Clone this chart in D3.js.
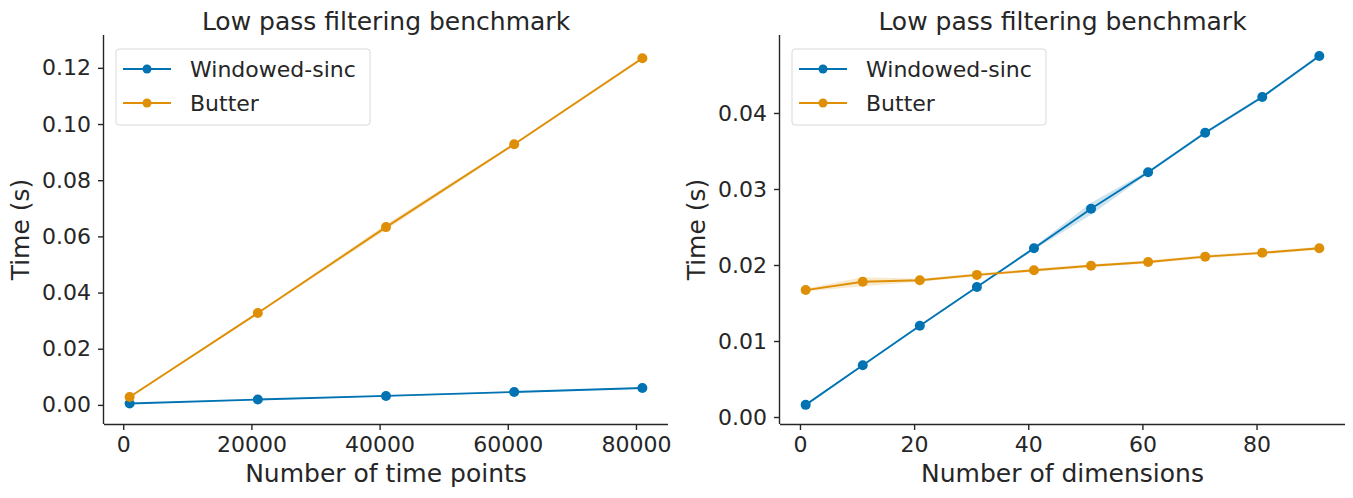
<!DOCTYPE html>
<html><head><meta charset="utf-8">
<script src="https://cdn.jsdelivr.net/npm/d3@7"></script>
<style>body{margin:0;background:#fff}svg{display:block}text{font-family:"DejaVu Sans",sans-serif;fill:#262626}</style>
</head><body><svg id="c" width="1353" height="498"></svg>
<script>
const seriesNames = ["Windowed-sinc", "Butter"];
const colors = ["#0173b2", "#de8f05"];

// Left panel: Number of time points
const leftX = [1000, 21000, 41000, 61000, 81000];
const leftWindowed = [0.0005, 0.0019, 0.0032, 0.0046, 0.0060];
const leftWindowedLo = [0.0003, 0.0017, 0.0030, 0.0044, 0.0058];
const leftWindowedHi = [0.0007, 0.0021, 0.0034, 0.0048, 0.0062];
const leftButter = [0.0028, 0.0327, 0.0633, 0.0928, 0.1234];
const leftButterLo = [0.0026, 0.0324, 0.0623, 0.0924, 0.1228];
const leftButterHi = [0.0030, 0.0330, 0.0643, 0.0932, 0.1240];
const leftXTicks = [0, 20000, 40000, 60000, 80000];
const leftYTicks = [0, 0.02, 0.04, 0.06, 0.08, 0.10, 0.12];

// Right panel: Number of dimensions
const rightX = [1, 11, 21, 31, 41, 51, 61, 71, 81, 91];
const rightWindowed = [0.0016, 0.0068, 0.0120, 0.0171, 0.0222, 0.0274, 0.0322, 0.0374, 0.0421, 0.0475];
const rightWindowedLo = [0.0015, 0.0067, 0.0119, 0.0170, 0.0220, 0.0266, 0.0320, 0.0372, 0.0419, 0.0473];
const rightWindowedHi = [0.0017, 0.0069, 0.0121, 0.0172, 0.0224, 0.0282, 0.0324, 0.0376, 0.0423, 0.0477];
const rightButter = [0.0167, 0.0178, 0.0180, 0.0187, 0.0193, 0.0199, 0.0204, 0.0211, 0.0216, 0.0222];
const rightButterLo = [0.0165, 0.0172, 0.0178, 0.0185, 0.0191, 0.0197, 0.0202, 0.0209, 0.0214, 0.0220];
const rightButterHi = [0.0169, 0.0184, 0.0182, 0.0189, 0.0195, 0.0201, 0.0206, 0.0213, 0.0218, 0.0224];
const rightXTicks = [0, 20, 40, 60, 80];
const rightYTicks = [0, 0.01, 0.02, 0.03, 0.04];

const title = "Low pass filtering benchmark";
const yLabel = "Time (s)";

const svg = d3.select("#c");

function panel(cfg) {
  const g = svg.append("g");
  const x = d3.scaleLinear().domain(cfg.xDomain).range([cfg.left, cfg.right]);
  const y = d3.scaleLinear().domain(cfg.yDomain).range([cfg.bottom, cfg.top]);

  const series = [
    {name: seriesNames[0], color: colors[0], v: cfg.w, lo: cfg.wLo, hi: cfg.wHi},
    {name: seriesNames[1], color: colors[1], v: cfg.b, lo: cfg.bLo, hi: cfg.bHi}
  ];
  const order = cfg.drawOrder;
  order.forEach(i => {
    const s = series[i];
    const area = d3.area().x((d, j) => x(cfg.xs[j])).y0((d, j) => y(s.lo[j])).y1((d, j) => y(s.hi[j]));
    g.append("path").attr("d", area(s.v)).attr("fill", s.color).attr("fill-opacity", 0.2).attr("stroke", "none");
  });
  order.forEach(i => {
    const s = series[i];
    const line = d3.line().x((d, j) => x(cfg.xs[j])).y(d => y(d));
    g.append("path").attr("d", line(s.v)).attr("fill", "none").attr("stroke", s.color).attr("stroke-width", 1.9);
    g.selectAll(null).data(s.v).enter().append("circle")
      .attr("cx", (d, j) => x(cfg.xs[j])).attr("cy", d => y(d)).attr("r", 5).attr("fill", s.color);
  });

  // axes
  const xa = g.append("g").attr("transform", `translate(0,${cfg.bottom})`)
    .call(d3.axisBottom(x).tickValues(cfg.xTicks).tickFormat(d3.format("d")).tickSize(6).tickPadding(6));
  const ya = g.append("g").attr("transform", `translate(${cfg.left},0)`)
    .call(d3.axisLeft(y).tickValues(cfg.yTicks).tickFormat(cfg.yFmt).tickSize(6).tickPadding(7));
  [xa, ya].forEach(a => {
    a.select(".domain").attr("stroke", "#262626").attr("stroke-width", 1.4);
    a.selectAll(".tick line").attr("stroke", "#262626").attr("stroke-width", 1.4);
    a.selectAll(".tick text").style("font-size", "22px").attr("fill", "#262626");
  });
  xa.select(".domain").attr("d", `M${cfg.left},0.5H${cfg.right}`);
  ya.select(".domain").attr("d", `M-0.5,${cfg.bottom}V${cfg.top}`);

  g.append("text").attr("x", (cfg.left + cfg.right) / 2).attr("y", 30)
    .attr("text-anchor", "middle").style("font-size", "25px").text(title);
  g.append("text").attr("x", (cfg.left + cfg.right) / 2).attr("y", 482)
    .attr("text-anchor", "middle").style("font-size", "25px").text(cfg.xLabel);
  g.append("text").attr("transform", `translate(${cfg.left - 84},${(cfg.top + cfg.bottom) / 2}) rotate(-90)`)
    .attr("text-anchor", "middle").attr("dy", "0.35em").style("font-size", "25px").text(yLabel);

  // legend
  const lg = g.append("g").attr("transform", `translate(${cfg.left + 12},${cfg.top + 14})`);
  lg.append("rect").attr("x", 0).attr("y", 0).attr("width", 254).attr("height", 76).attr("rx", 3)
    .attr("fill", "#fff").attr("fill-opacity", 0.8).attr("stroke", "#d9d9d9").attr("stroke-width", 1);
  series.forEach((s, i) => {
    const yy = 20 + i * 34;
    lg.append("line").attr("x1", 7).attr("x2", 55).attr("y1", yy).attr("y2", yy).attr("stroke", s.color).attr("stroke-width", 1.9);
    lg.append("circle").attr("cx", 31).attr("cy", yy).attr("r", 4.5).attr("fill", s.color);
    lg.append("text").attr("x", 74).attr("y", yy).attr("dy", "0.35em").style("font-size", "22px").text(s.name);
  });
}

panel({
  left: 104, right: 668, top: 35, bottom: 424,
  xDomain: [-3000, 85000], yDomain: [-0.0068, 0.1317],
  xs: leftX, w: leftWindowed, wLo: leftWindowedLo, wHi: leftWindowedHi,
  b: leftButter, bLo: leftButterLo, bHi: leftButterHi,
  xTicks: leftXTicks, yTicks: leftYTicks, yFmt: d3.format(".2f"),
  xLabel: "Number of time points", drawOrder: [0, 1]
});
panel({
  left: 780, right: 1345, top: 35, bottom: 424,
  xDomain: [-3.5, 95.5], yDomain: [-0.00092, 0.05026],
  xs: rightX, w: rightWindowed, wLo: rightWindowedLo, wHi: rightWindowedHi,
  b: rightButter, bLo: rightButterLo, bHi: rightButterHi,
  xTicks: rightXTicks, yTicks: rightYTicks, yFmt: d3.format(".2f"),
  xLabel: "Number of dimensions", drawOrder: [0, 1]
});
</script></body></html>
